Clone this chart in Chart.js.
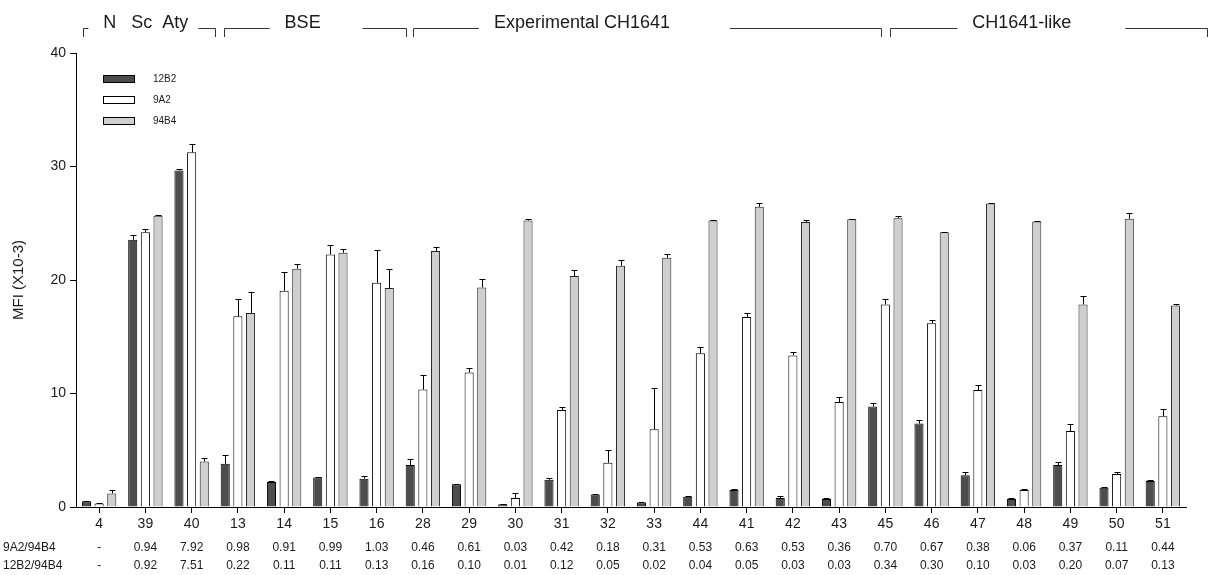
<!DOCTYPE html>
<html>
<head>
<meta charset="utf-8">
<script src="https://cdn.jsdelivr.net/npm/chart.js@4/dist/chart.umd.min.js"></script>
<style>
  html, body { margin: 0; padding: 0; background: #fff; }
  canvas { display: block; }
</style>
</head>
<body>
<canvas id="mfiChart" width="1227" height="575"></canvas>
<script>
// Animals / samples on the x axis
const categories = ['4', '39', '40', '13', '14', '15', '16', '28', '29', '30', '31', '32',
    '33', '44', '41', '42', '43', '45', '46', '47', '48', '49', '50', '51'];

// MFI values (x10-3) and their SD for the three antibodies
const mab12B2 = [0.5, 23.55, 29.65, 3.8, 2.2, 2.6, 2.5, 3.7, 2.0, 0.25, 2.4, 1.1,
    0.4, 0.9, 1.5, 0.8, 0.7, 8.85, 7.35, 2.8, 0.7, 3.7, 1.7, 2.3];
const sd12B2 = [0.05, 0.45, 0.1, 0.8, 0.05, 0.05, 0.2, 0.5, 0.05, 0.05, 0.15, 0.05,
    0.05, 0.05, 0.05, 0.15, 0.05, 0.3, 0.35, 0.3, 0.05, 0.3, 0.1, 0.05];

const mab9A2 = [0.3, 24.2, 31.25, 16.8, 19.05, 22.25, 19.75, 10.35, 11.85, 0.8, 8.55, 3.9,
    6.85, 13.55, 16.75, 13.35, 9.25, 17.85, 16.2, 10.3, 1.5, 6.7, 2.9, 8.0];
const sd9A2 = [0.05, 0.25, 0.7, 1.55, 1.65, 0.8, 2.9, 1.3, 0.4, 0.45, 0.25, 1.1,
    3.6, 0.55, 0.35, 0.3, 0.45, 0.5, 0.25, 0.45, 0.1, 0.6, 0.2, 0.6];

const mab94B4 = [1.2, 25.65, 4.0, 17.1, 21.0, 22.4, 19.3, 22.55, 19.35, 25.25, 20.35, 21.25,
    21.95, 25.25, 26.45, 25.1, 25.35, 25.45, 24.2, 26.75, 25.15, 17.85, 25.4, 17.75];
const sd94B4 = [0.3, 0.1, 0.35, 1.8, 0.45, 0.35, 1.65, 0.35, 0.7, 0.15, 0.55, 0.5,
    0.3, 0.05, 0.3, 0.15, 0.05, 0.2, 0.05, 0.05, 0.05, 0.7, 0.5, 0.15];

// ratio rows under the axis
const ratio9A2 = ['-', '0.94', '7.92', '0.98', '0.91', '0.99', '1.03', '0.46', '0.61', '0.03', '0.42', '0.18',
    '0.31', '0.53', '0.63', '0.53', '0.36', '0.70', '0.67', '0.38', '0.06', '0.37', '0.11', '0.44'];
const ratio12B2 = ['-', '0.92', '7.51', '0.22', '0.11', '0.11', '0.13', '0.16', '0.10', '0.01', '0.12', '0.05',
    '0.02', '0.04', '0.05', '0.03', '0.03', '0.34', '0.30', '0.10', '0.03', '0.20', '0.07', '0.13'];

// groups across the top (positions in category index units)
const groupLabels = ['N   Sc  Aty', 'BSE', 'Experimental CH1641', 'CH1641-like'];
const groupStart = [-0.35, 2.7, 6.79, 17.1];
const groupEnd = [2.5, 6.64, 16.9, 23.95];
const groupCentre = [1.01, 4.4, 10.44, 19.95];
const groupGapRight = [10, 42, 60, 54];

const yTicks = [0, 10, 20, 30, 40];

const FONT = '"Liberation Sans", Arial, sans-serif';
const INK = '#1a1a1a';

const sds = [sd12B2, sd9A2, sd94B4];

// Error bars (line + cap on top of each bar)
const errorBars = {
    id: 'errorBars',
    afterDatasetsDraw(chart) {
        const ctx = chart.ctx;
        const y = chart.scales.y;
        ctx.save();
        ctx.strokeStyle = '#000';
        ctx.lineWidth = 1;
        chart.data.datasets.forEach((ds, i) => {
            const meta = chart.getDatasetMeta(i);
            meta.data.forEach((bar, j) => {
                const sd = sds[i][j];
                if (!sd) return;
                const top = Math.round(y.getPixelForValue(ds.data[j] + sd)) + 0.5;
                const x = Math.round(bar.x) + 0.5;
                ctx.beginPath();
                ctx.moveTo(x, bar.y);
                ctx.lineTo(x, top);
                ctx.moveTo(x - 3, top);
                ctx.lineTo(x + 3, top);
                ctx.stroke();
            });
        });
        ctx.restore();
    }
};

// Legend, group brackets and ratio rows
const annotations = {
    id: 'annotations',
    afterDraw(chart) {
        const ctx = chart.ctx;
        const x = chart.scales.x;
        const y = chart.scales.y;
        ctx.save();
        ctx.fillStyle = INK;
        ctx.lineWidth = 1;

        // little hook at the top of the y axis
        ctx.strokeStyle = '#000';
        ctx.beginPath();
        ctx.moveTo(x.left - 0.5, y.top + 0.5);
        ctx.lineTo(x.left - 5, y.top + 0.5);
        ctx.stroke();

        // legend
        ctx.font = '10px ' + FONT;
        ctx.textBaseline = 'middle';
        ctx.textAlign = 'left';
        chart.data.datasets.forEach((ds, i) => {
            const ly = 79 + i * 21;
            ctx.fillStyle = ds.backgroundColor;
            ctx.fillRect(103, ly - 3.5, 31, 7);
            ctx.strokeStyle = '#000';
            ctx.strokeRect(103.5, ly - 3.5, 31, 7);
            ctx.fillStyle = INK;
            ctx.fillText(ds.label, 153, ly);
        });

        // group brackets
        ctx.font = '18px ' + FONT;
        ctx.textAlign = 'center';
        ctx.strokeStyle = '#333';
        const lineY = 28.5;
        groupLabels.forEach((label, g) => {
            const x0 = Math.round(x.getPixelForValue(groupStart[g])) + 0.5;
            const x1 = Math.round(x.getPixelForValue(groupEnd[g])) + 0.5;
            const xc = x.getPixelForValue(groupCentre[g]);
            const w = ctx.measureText(label).width;
            ctx.fillText(label, xc, 23.5);
            ctx.beginPath();
            ctx.moveTo(x0, 37);
            ctx.lineTo(x0, lineY);
            ctx.lineTo(xc - w / 2 - 15, lineY);
            ctx.moveTo(xc + w / 2 + groupGapRight[g], lineY);
            ctx.lineTo(x1, lineY);
            ctx.lineTo(x1, 37);
            ctx.stroke();
        });

        // ratio rows
        ctx.font = '12px ' + FONT;
        ctx.textAlign = 'left';
        ctx.fillText('9A2/94B4', 3, 548);
        ctx.fillText('12B2/94B4', 3, 566);
        ctx.textAlign = 'center';
        categories.forEach((c, i) => {
            const px = x.getPixelForValue(i);
            ctx.fillText(ratio9A2[i], px, 548);
            ctx.fillText(ratio12B2[i], px, 566);
        });
        ctx.restore();
    }
};

new Chart(document.getElementById('mfiChart'), {
    type: 'bar',
    data: {
        labels: categories,
        datasets: [
            { label: '12B2', data: mab12B2, backgroundColor: '#4d4d4d', borderColor: '#000', borderWidth: 1 },
            { label: '9A2', data: mab9A2, backgroundColor: '#ffffff', borderColor: '#000', borderWidth: 1 },
            { label: '94B4', data: mab94B4, backgroundColor: '#cfcfcf', borderColor: '#222', borderWidth: 1 }
        ]
    },
    options: {
        responsive: false,
        animation: false,
        devicePixelRatio: 1,
        categoryPercentage: 0.82,
        barPercentage: 0.72,
        layout: { padding: { top: 53, right: 41, left: 10, bottom: 0 } },
        plugins: {
            legend: { display: false },
            tooltip: { enabled: false }
        },
        scales: {
            x: {
                offset: true,
                grid: { drawOnChartArea: false, offset: false, tickLength: 6, color: '#000' },
                border: { color: '#000' },
                ticks: { color: INK, font: { family: FONT, size: 14 }, padding: 3, maxRotation: 0, autoSkip: false },
                afterFit: s => { s.height = 68; }
            },
            y: {
                min: 0,
                max: 40,
                afterBuildTicks: s => { s.ticks = yTicks.map(v => ({ value: v })); },
                grid: { drawOnChartArea: false, tickLength: 6, color: '#000' },
                border: { color: '#000' },
                ticks: { color: INK, font: { family: FONT, size: 14 }, padding: 4 },
                title: { display: true, text: 'MFI (X10-3)', color: INK, font: { family: FONT, size: 15 }, padding: 0 },
                afterFit: s => { s.width = 66; }
            }
        }
    },
    plugins: [errorBars, annotations]
});
</script>
</body>
</html>
